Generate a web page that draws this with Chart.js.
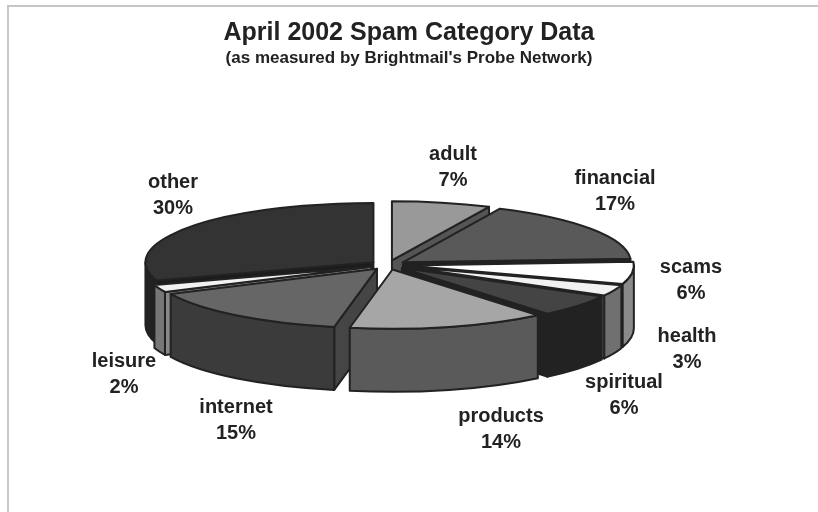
<!DOCTYPE html>
<html>
<head>
<meta charset="utf-8">
<title>Spam categories</title>
<style>
  html, body { margin: 0; background: #fff; }
  canvas { display: block; }
</style>
<script src="https://cdn.jsdelivr.net/npm/chart.js@4"></script>
</head>
<body>
<canvas id="pieChart" width="818" height="512"></canvas>
<script>
var categories = ['adult', 'financial', 'scams', 'health', 'spiritual', 'products', 'internet', 'leisure', 'other'];
var shares = [7, 17, 6, 3, 6, 14, 15, 2, 30];

var topColors = ['#999999', '#595959', '#ffffff', '#f2f2f2', '#444444', '#a6a6a6', '#666666', '#f2f2f2', '#333333'];
var wallColors = ['#555555', '#444444', '#8a8a8a', '#707070', '#222222', '#5a5a5a', '#3b3b3b', '#777777', '#222222'];
var cutColors = ['#555555', '#222222', '#666666', '#707070', '#222222', '#5a5a5a', '#454545', '#888888', '#1c1c1c'];

// where each two-line label is centred
var labelSpots = [[453, 167], [615, 191], [691, 280], [687, 349], [624, 395], [501, 429], [236, 420], [124, 374], [173, 195]];

var tilt = 0.26;
var depth = 63;
var explode = 18;
var pieShift = -21;
var inkColor = '#222222';

var pie3d = {
    id: 'pie3d',
    beforeDraw: function (chart) {
        // thin frame along the top and left edge
        var ctx = chart.ctx;
        ctx.save();
        ctx.strokeStyle = '#c6c6c6';
        ctx.lineWidth = 2;
        ctx.beginPath();
        ctx.moveTo(8, 512);
        ctx.lineTo(8, 6);
        ctx.lineTo(818, 6);
        ctx.stroke();
        ctx.restore();
    },
    beforeDatasetDraw: function (chart, args) {
        var ctx = chart.ctx;
        var arcs = args.meta.data;
        var order = arcs.map(function (a, i) { return i; });
        var midOf = function (a) { return (a.startAngle + a.endAngle) / 2; };
        // far slices first, so the near ones cover them
        order.sort(function (p, q) { return Math.sin(midOf(arcs[p])) - Math.sin(midOf(arcs[q])); });

        ctx.save();
        ctx.lineJoin = 'round';
        ctx.lineWidth = 2;
        ctx.strokeStyle = inkColor;
        order.forEach(function (i) {
            var arc = arcs[i];
            var mid = midOf(arc);
            var r = arc.outerRadius;
            var ox = arc.x + pieShift + Math.cos(mid) * explode;
            var oy = arc.y + Math.sin(mid) * explode * tilt;
            var rim = function (ang) {
                return [ox + Math.cos(ang) * r, oy + Math.sin(ang) * r * tilt];
            };

            var cutFace = function (ang) {
                var p = rim(ang);
                ctx.beginPath();
                ctx.moveTo(ox, oy);
                ctx.lineTo(p[0], p[1]);
                ctx.lineTo(p[0], p[1] + depth);
                ctx.lineTo(ox, oy + depth);
                ctx.closePath();
                ctx.fillStyle = cutColors[i];
                ctx.fill();
                ctx.stroke();
            };
            if (Math.cos(arc.startAngle) < 0) cutFace(arc.startAngle);
            if (Math.cos(arc.endAngle) > 0) cutFace(arc.endAngle);

            // outer wall, only the part that faces front
            var from = Math.max(arc.startAngle, 0);
            var to = Math.min(arc.endAngle, Math.PI);
            if (to > from) {
                ctx.beginPath();
                ctx.ellipse(ox, oy, r, r * tilt, 0, from, to);
                ctx.ellipse(ox, oy + depth, r, r * tilt, 0, to, from, true);
                ctx.closePath();
                ctx.fillStyle = wallColors[i];
                ctx.fill();
                ctx.stroke();
            }

            // top face is the library's own arc, squashed
            ctx.save();
            ctx.translate(ox, oy);
            ctx.scale(1, tilt);
            ctx.translate(-arc.x, -arc.y);
            arc.draw(ctx);
            ctx.restore();

            ctx.beginPath();
            ctx.moveTo(ox, oy);
            ctx.ellipse(ox, oy, r, r * tilt, 0, arc.startAngle, arc.endAngle);
            ctx.closePath();
            ctx.stroke();
        });
        ctx.restore();
        return false;
    },
    afterDraw: function (chart) {
        var ctx = chart.ctx;
        ctx.save();
        ctx.fillStyle = inkColor;
        ctx.font = 'bold 20px "Liberation Sans", Arial, sans-serif';
        ctx.textAlign = 'center';
        ctx.textBaseline = 'middle';
        categories.forEach(function (name, i) {
            ctx.fillText(name, labelSpots[i][0], labelSpots[i][1] - 13);
            ctx.fillText(shares[i] + '%', labelSpots[i][0], labelSpots[i][1] + 13);
        });
        ctx.restore();
    }
};

var chart = new Chart(document.getElementById('pieChart').getContext('2d'), {
    type: 'pie',
    data: {
        labels: categories,
        datasets: [{
            data: shares,
            backgroundColor: topColors,
            borderWidth: 0
        }]
    },
    options: {
        responsive: false,
        animation: false,
        radius: 228,
        layout: { padding: { bottom: 56.4 } },
        plugins: {
            legend: { display: false },
            tooltip: { enabled: false },
            title: {
                display: true,
                text: 'April 2002 Spam Category Data',
                color: inkColor,
                font: { family: '"Liberation Sans", Arial, sans-serif', size: 25, weight: 'bold' },
                padding: { top: 18, bottom: 0 }
            },
            subtitle: {
                display: true,
                text: "(as measured by Brightmail's Probe Network)",
                color: inkColor,
                font: { family: '"Liberation Sans", Arial, sans-serif', size: 17, weight: 'bold' },
                padding: { top: 0, bottom: 6 }
            }
        }
    },
    plugins: [pie3d]
});
</script>
</body>
</html>
